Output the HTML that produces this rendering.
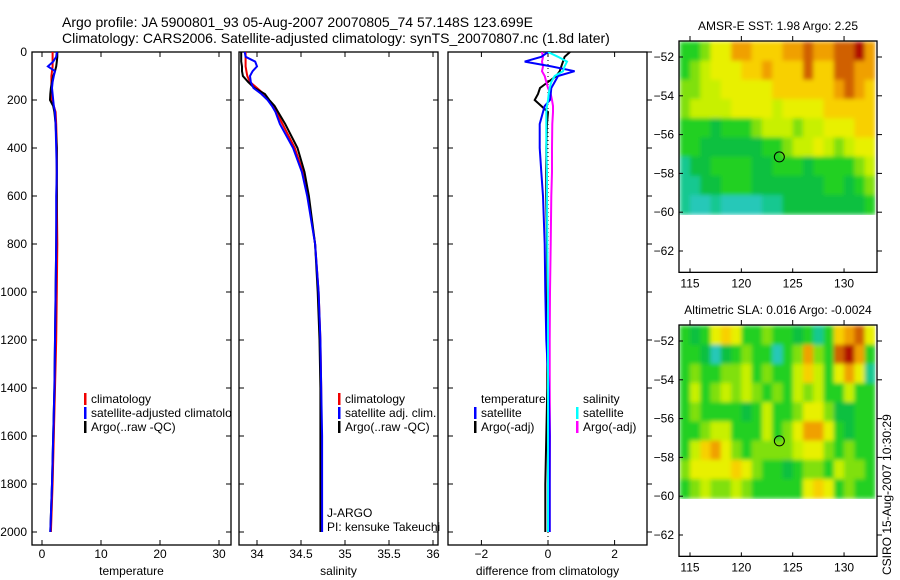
<!DOCTYPE html>
<html><head><meta charset="utf-8">
<style>
body{margin:0;background:#fff;}
svg{display:block;font-family:"Liberation Sans",sans-serif;}
text{font-size:12px;fill:#000;}
</style></head>
<body>
<svg id="chart" width="900" height="580" viewBox="0 0 900 580">
<defs><filter id="soft" x="0" y="0" width="1" height="1"><feGaussianBlur stdDeviation="2.2" edgeMode="duplicate"/></filter></defs>
<text x="62" y="27" style="font-size:14px">Argo profile: JA 5900801_93 05-Aug-2007 20070805_74 57.148S 123.699E</text>
<text x="62" y="43" style="font-size:14px">Climatology: CARS2006. Satellite-adjusted climatology: synTS_20070807.nc (1.8d later)</text>
<text x="778" y="30" text-anchor="middle">AMSR-E SST: 1.98 Argo: 2.25</text>
<text x="778" y="314" text-anchor="middle">Altimetric SLA: 0.016 Argo: -0.0024</text>
<text transform="translate(891,575) rotate(-90)">CSIRO 15-Aug-2007 10:30:29</text>
</svg>
<script>
const depths=[0,20,40,60,80,100,125,150,175,200,225,250,300,400,500,600,800,1000,1200,1400,1600,1800,2000];
const tempClim=[1.8,1.8,1.8,1.8,1.7,1.6,1.6,1.6,1.6,1.7,2.0,2.3,2.4,2.5,2.5,2.5,2.6,2.5,2.4,2.2,2.0,1.8,1.5];
const tempSat=[2.5,2.4,1.9,1.0,2.2,2.0,1.8,1.7,1.8,1.9,2.0,2.2,2.3,2.4,2.5,2.4,2.4,2.3,2.2,2.1,1.9,1.7,1.4];
const tempArgo=[2.6,2.6,2.5,2.4,2.2,1.9,1.7,1.5,1.4,1.35,1.9,2.1,2.3,2.5,2.5,2.5,2.4,2.3,2.2,2.1,1.9,1.7,1.4];
const salClim=[33.87,33.87,33.87,33.87,33.88,33.89,33.92,34.0,34.08,34.13,34.18,34.22,34.29,34.43,34.52,34.58,34.66,34.7,34.72,34.73,34.73,34.73,34.73];
const salSat=[33.86,33.87,33.98,34.0,33.95,33.92,33.93,33.96,34.05,34.12,34.17,34.21,34.26,34.41,34.51,34.57,34.66,34.7,34.72,34.73,34.74,34.74,34.74];
const salArgo=[33.82,33.82,33.82,33.83,33.83,33.84,33.9,33.97,34.09,34.14,34.2,34.24,34.32,34.46,34.54,34.59,34.66,34.69,34.71,34.72,34.72,34.72,34.72];
const dTempSat=[0,-0.2,-0.7,0.1,0.8,0.3,0.2,0.1,0.08,0.06,-0.1,-0.15,-0.25,-0.25,-0.2,-0.15,-0.1,-0.08,-0.05,0.02,0.05,0.05,0.05];
const dTempArgo=[0.66,0.5,0.45,0.4,0.35,0.25,0.0,-0.24,-0.3,-0.4,-0.2,0.0,-0.03,-0.05,-0.05,-0.05,-0.03,-0.02,-0.02,-0.02,-0.05,-0.08,-0.08];
const dSalSat=[0,0.3,0.57,0.5,0.45,0.2,0.1,0.05,0.02,0,-0.03,-0.05,-0.05,-0.05,-0.03,-0.03,-0.02,0,0,0,0,0,0];
const dSalArgo=[-0.18,-0.15,-0.18,-0.15,-0.18,-0.1,-0.05,0,0.08,0.12,0.15,0.15,0.13,0.12,0.12,0.1,0.08,0.06,0.05,0.05,0.06,0.05,0.05];
const depthTicks=[0,200,400,600,800,1000,1200,1400,1600,1800,2000];
const tempTicks=[0,10,20,30];
const salTicks=[34,34.5,35,35.5,36];
const salTickLabels=["34","34.5","35","35.5","36"];
const diffTicks=[-2,0,2];
const latTicks=[-52,-54,-56,-58,-60,-62];
const lonTicks=[115,120,125,130];
const sstGrid=[
[3,3,4,6,6,8,8,7,7,7,8,8,9,8,8,9,9,10,8],
[3,4,5,6,6,6,7,7,8,7,7,7,9,7,7,9,9,8,8],
[4,4,5,5,6,6,6,6,6,7,7,7,7,7,7,8,9,8,7],
[4,5,5,5,5,6,6,6,6,5,6,6,6,6,7,7,7,7,7],
[3,3,3,2,3,3,3,4,5,5,5,4,5,5,6,6,6,7,7],
[3,3,2,2,2,2,2,2,3,3,4,5,5,6,5,4,5,6,6],
[1,2,2,3,3,3,3,2,2,3,3,3,2,3,3,3,3,4,5],
[1,1,2,2,3,3,3,2,2,2,2,2,2,2,3,3,2,3,4],
[1,0,0,1,0,0,0,0,1,1,2,2,2,2,2,2,2,2,3]];
const slaGrid=[
[3,2,3,6,7,6,3,3,4,3,3,2,3,1,3,7,8,9,6],
[3,3,2,0,2,3,4,3,3,0,3,4,8,4,3,9,10,8,3],
[3,4,3,3,4,4,5,3,4,3,3,5,7,5,3,6,8,6,1],
[3,5,3,4,5,4,5,4,3,4,3,5,4,5,3,3,5,3,3],
[3,4,3,3,3,3,2,3,5,3,3,4,6,6,4,2,2,3,3],
[3,3,4,5,5,3,3,3,5,3,4,6,8,8,6,3,2,3,3],
[3,5,7,8,6,4,3,4,4,4,4,5,6,6,4,3,4,3,3],
[4,6,6,6,6,7,6,4,3,3,2,3,4,4,3,5,4,4,3],
[3,4,5,4,4,5,4,3,3,3,3,3,6,7,6,3,4,3,3]];
const floatLon=123.7, floatLat=-57.15;

const palette=["#28c8b8","#18c890","#08c040","#20d020","#80e010","#c8f000","#e8f000","#f8d000","#f0a000","#d06000","#b01000"];
const NS="http://www.w3.org/2000/svg";
const svg=document.getElementById('chart');
function el(tag,attrs,parent){const e=document.createElementNS(NS,tag);for(const k in attrs)e.setAttribute(k,attrs[k]);(parent||svg).appendChild(e);return e;}
const yD=d=>52+0.24*d;
const xT=t=>42+5.9*t;
const xS=s=>257+88*(s-34);
const xDf=v=>548+33.3*v;

const panels=[{x0:32,x1:231,fn:xT,ticks:tempTicks,labels:tempTicks.map(String),title:"temperature",name:"temperature"},
{x0:239,x1:438,fn:xS,ticks:salTicks,labels:salTickLabels,title:"salinity",name:"salinity"},
{x0:448,x1:647,fn:xDf,ticks:diffTicks,labels:diffTicks.map(v=>v<0?"\u2212"+(-v):String(v)),title:"difference from climatology",name:"difference"}];
panels.forEach((p,i)=>{
  const g=el('g',{});
  
  
  const cp=el('clipPath',{id:'clip'+i},g);
  el('rect',{x:p.x0,y:52,width:p.x1-p.x0,height:493},cp);
  el('rect',{x:p.x0,y:52,width:p.x1-p.x0,height:493,fill:'none',stroke:'#000','stroke-width':1.3},g);
  p.ticks.forEach((t,j)=>{
    const x=p.fn(t);
    el('line',{x1:x,x2:x,y1:545,y2:540,stroke:'#000'},g);
    el('line',{x1:x,x2:x,y1:52,y2:57,stroke:'#000'},g);
    const tx=el('text',{x:x,y:558,'text-anchor':'middle'},g);tx.textContent=p.labels[j];
    
    
  });
  const at=el('text',{x:(p.x0+p.x1)/2,y:575,'text-anchor':'middle'},g);at.textContent=p.title;
  
  
  depthTicks.forEach(d=>{
    const y=yD(d);
    el('line',{x1:p.x0,x2:p.x0+5,y1:y,y2:y,stroke:'#000'},g);
    if(i<2) el('line',{x1:p.x1,x2:p.x1-5,y1:y,y2:y,stroke:'#000'},g);
    else el('line',{x1:p.x1,x2:p.x1+5,y1:y,y2:y,stroke:'#000'},g);
    if(i===0){const t=el('text',{x:27,y:y+4,'text-anchor':'end'},g);t.textContent=String(d);
      
      }
  });
});
function profile(vals,fn,color,name,clipId,w){
  const pts=vals.map((v,k)=>fn(v).toFixed(1)+','+yD(depths[k]).toFixed(1)).join(' ');
  const l=el('polyline',{points:pts,fill:'none',stroke:color,'stroke-width':w||2,'clip-path':'url(#'+clipId+')'});
  
  
}
profile(tempClim,xT,'#f00000','temp-climatology-line','clip0');
profile(tempArgo,xT,'#000','temp-argo-line','clip0');
profile(tempSat,xT,'#0000ff','temp-satellite-line','clip0');
profile(salClim,xS,'#f00000','sal-climatology-line','clip1');
profile(salArgo,xS,'#000','sal-argo-line','clip1');
profile(salSat,xS,'#0000ff','sal-satellite-line','clip1');
const zl=el('line',{x1:xDf(0),x2:xDf(0),y1:52,y2:545,stroke:'#000','stroke-dasharray':'1,3'});


profile(dTempArgo,xDf,'#000','diff-temp-argo-line','clip2');
profile(dSalArgo,xDf,'#ff00ff','diff-sal-argo-line','clip2');
profile(dTempSat,xDf,'#0000ff','diff-temp-satellite-line','clip2');
profile(dSalSat,xDf,'#00ffff','diff-sal-satellite-line','clip2');

function legendEntry(x,y,color,label,clipId){
  const g=el('g',{'clip-path':clipId?'url(#'+clipId+')':''});
  
  
  if(color) el('rect',{x:x,y:y-9,width:2.5,height:12,fill:color},g);
  const t=el('text',{x:x+7,y:y+1},g);t.textContent=label;
}
legendEntry(84,402,'#f00000','climatology','clip0');
legendEntry(84,416,'#0000ff','satellite-adjusted climatology','clip0');
legendEntry(84,430,'#000','Argo(..raw -QC)','clip0');
legendEntry(338,402,'#f00000','climatology');
legendEntry(338,416,'#0000ff','satellite adj. clim.');
legendEntry(338,430,'#000','Argo(..raw -QC)');
legendEntry(474,402,null,'temperature');
legendEntry(474,416,'#0000ff','satellite');
legendEntry(474,430,'#000','Argo(-adj)');
legendEntry(576,402,null,'salinity');
legendEntry(576,416,'#00ffff','satellite');
legendEntry(576,430,'#ff00ff','Argo(-adj)');
const j1=el('text',{x:327,y:517});j1.textContent='J-ARGO';


const j2=el('text',{x:327,y:531});j2.textContent='PI: kensuke Takeuchi';



function map(grid,top,name){
  const g=el('g',{});
  
  
  const lonX=lo=>690+(lo-115)*10.27;
  const latY=la=>top+16+(-52-la)*19.4;
  const x0=679,x1=877,yTop=top,yBot=latY(-63.1);
  const rows=grid.length,cols=grid[0].length;
  const lonMin=114,lonMax=133,latMax=-51.2,latMin=-60.1;
  const cells=el('g',{filter:'url(#soft)'},g);
  for(let r=0;r<rows;r++)for(let c=0;c<cols;c++){
    const xa=lonX(lonMin+(lonMax-lonMin)*c/cols),xb=lonX(lonMin+(lonMax-lonMin)*(c+1)/cols);
    const ya=latY(latMax-(latMax-latMin)*r/rows),yb=latY(latMax-(latMax-latMin)*(r+1)/rows);
    const cell=el('rect',{x:xa.toFixed(1),y:ya.toFixed(1),width:(xb-xa+0.6).toFixed(1),height:(yb-ya+0.6).toFixed(1),fill:palette[grid[r][c]]},cells);
    
    
  }
  el('rect',{x:x0,y:yTop,width:x1-x0,height:yBot-yTop,fill:'none',stroke:'#000','stroke-width':1.3},g);
  latTicks.forEach(la=>{const y=latY(la);
    el('line',{x1:x0,x2:x0+4,y1:y,y2:y,stroke:'#000'},g);
    el('line',{x1:x1,x2:x1+5,y1:y,y2:y,stroke:'#000'},g);
    const t=el('text',{x:x0-5,y:y+4,'text-anchor':'end'},g);t.textContent='\u2212'+(-la);});
  lonTicks.forEach(lo=>{const x=lonX(lo);
    el('line',{x1:x,x2:x,y1:yTop,y2:yTop-5,stroke:'#000'},g);
    el('line',{x1:x,x2:x,y1:yBot,y2:yBot-4,stroke:'#000'},g);
    const t=el('text',{x:x,y:yBot+15,'text-anchor':'middle'},g);t.textContent=String(lo);});
  const m=el('circle',{cx:lonX(floatLon),cy:latY(floatLat),r:5,fill:'none',stroke:'#000','stroke-width':1},g);
  
  
}
map(sstGrid,41,'sst-map');
map(slaGrid,325,'sla-map');
</script>
</body></html>
